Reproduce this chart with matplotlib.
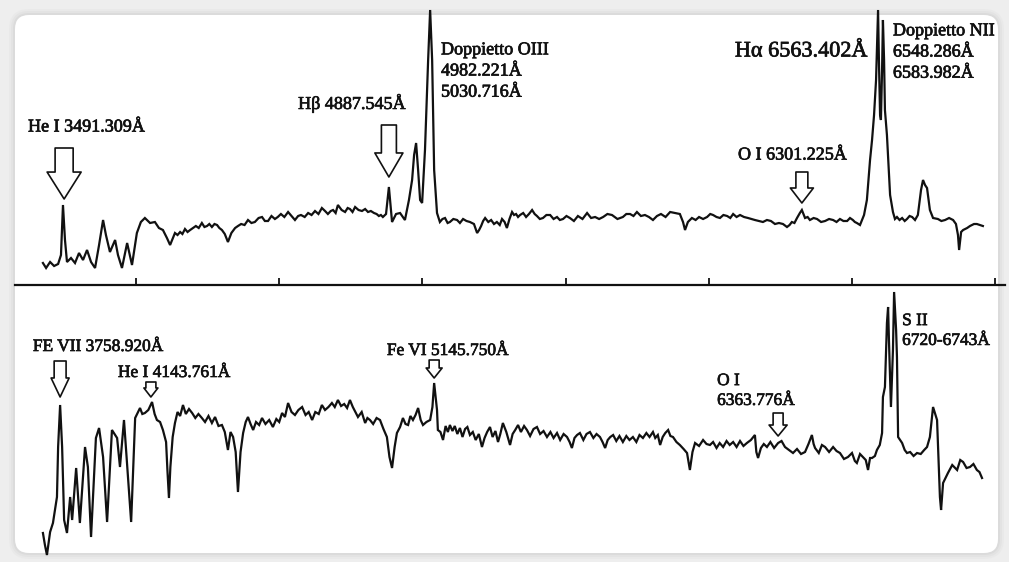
"""
Two optical spectra (top / bottom) with the identified emission lines marked
by hollow arrows, drawn on a rounded white card.
"""
import matplotlib

matplotlib.use("Agg")
import matplotlib.pyplot as plt
import matplotlib.patheffects as pe
from matplotlib.patches import FancyBboxPatch

plt.rcParams["font.family"] = ["Liberation Serif", "DejaVu Serif"]

# ---- upper spectrum: wavelength (Å) and relative flux ----
top_wave = [
    3675, 3686, 3700, 3714, 3728, 3738, 3745, 3752, 3759, 3773,
    3787, 3801, 3815, 3829, 3843, 3857, 3871, 3885, 3895, 3909,
    3927, 3937, 3951, 3969, 3986, 4003, 4017, 4031, 4049, 4066,
    4080, 4094, 4108, 4119, 4136, 4145, 4154, 4162, 4171, 4180,
    4189, 4199, 4209, 4219, 4230, 4239, 4248, 4256, 4265, 4274,
    4283, 4291, 4300, 4310, 4321, 4333, 4346, 4356, 4367, 4379,
    4391, 4403, 4415, 4428, 4440, 4450, 4461, 4473, 4485, 4495,
    4506, 4518, 4531, 4543, 4555, 4566, 4576, 4589, 4601, 4613,
    4625, 4637, 4649, 4660, 4670, 4680, 4688, 4697, 4705, 4718,
    4730, 4739, 4747, 4756, 4765, 4777, 4789, 4800, 4810, 4820,
    4831, 4840, 4848, 4855, 4862, 4873, 4883, 4894, 4908, 4922,
    4939, 4953, 4964, 4971, 4978, 4985, 4992, 4999, 5009, 5020,
    5027, 5034, 5041, 5051, 5061, 5070, 5079, 5088, 5096, 5108,
    5121, 5131, 5142, 5154, 5166, 5180, 5191, 5198, 5205, 5212,
    5219, 5230, 5240, 5250, 5260, 5270, 5278, 5287, 5295, 5304,
    5313, 5320, 5327, 5334, 5341, 5352, 5362, 5372, 5383, 5392,
    5400, 5410, 5421, 5433, 5446, 5458, 5470, 5480, 5491, 5503,
    5515, 5529, 5543, 5559, 5575, 5589, 5603, 5617, 5631, 5646,
    5662, 5681, 5700, 5712, 5725, 5737, 5749, 5763, 5777, 5791,
    5805, 5819, 5833, 5849, 5865, 5882, 5899, 5910, 5917, 5927,
    5941, 5954, 5966, 5980, 5994, 6005, 6015, 6027, 6039, 6051,
    6064, 6075, 6085, 6097, 6109, 6123, 6137, 6149, 6161, 6175,
    6189, 6203, 6217, 6231, 6245, 6259, 6273, 6282, 6290, 6299,
    6308, 6318, 6325, 6336, 6345, 6353, 6366, 6378, 6392, 6406,
    6420, 6434, 6446, 6458, 6470, 6483, 6493, 6503, 6510, 6517,
    6528, 6542, 6552, 6563, 6570, 6577, 6584, 6591, 6594, 6598,
    6601, 6605, 6608, 6612, 6615, 6622, 6633, 6643, 6650, 6657,
    6666, 6675, 6684, 6692, 6701, 6710, 6720, 6730, 6741, 6748,
    6755, 6762, 6772, 6783, 6800, 6812, 6825, 6839, 6853, 6863,
    6870, 6874, 6881, 6888, 6902, 6912, 6926, 6936, 6947, 6957,
]
top_flux = [
    0.22, 0.17, 0.23, 0.19, 0.21, 0.30, 0.80, 0.45, 0.23, 0.27,
    0.22, 0.32, 0.25, 0.35, 0.23, 0.17, 0.40, 0.65, 0.50, 0.33,
    0.45, 0.30, 0.17, 0.42, 0.20, 0.52, 0.63, 0.67, 0.62, 0.63,
    0.57, 0.55, 0.47, 0.40, 0.52, 0.50, 0.53, 0.51, 0.56, 0.53,
    0.55, 0.57, 0.59, 0.57, 0.62, 0.58, 0.59, 0.61, 0.58, 0.61,
    0.60, 0.57, 0.55, 0.51, 0.43, 0.52, 0.57, 0.59, 0.61, 0.60,
    0.65, 0.62, 0.63, 0.67, 0.68, 0.64, 0.64, 0.69, 0.66, 0.68,
    0.71, 0.68, 0.73, 0.69, 0.65, 0.69, 0.70, 0.68, 0.72, 0.70,
    0.74, 0.71, 0.77, 0.74, 0.71, 0.74, 0.75, 0.72, 0.80, 0.75,
    0.73, 0.77, 0.76, 0.73, 0.78, 0.75, 0.74, 0.76, 0.73, 0.74,
    0.72, 0.71, 0.69, 0.70, 0.68, 0.71, 0.98, 0.63, 0.71, 0.72,
    0.65, 0.85, 1.05, 1.30, 1.42, 1.15, 0.85, 0.82, 1.35, 2.25,
    2.75, 2.25, 1.15, 0.72, 0.63, 0.66, 0.67, 0.62, 0.63, 0.66,
    0.65, 0.62, 0.66, 0.64, 0.63, 0.61, 0.52, 0.55, 0.59, 0.64,
    0.67, 0.63, 0.65, 0.61, 0.63, 0.60, 0.66, 0.63, 0.57, 0.66,
    0.73, 0.70, 0.71, 0.68, 0.70, 0.72, 0.68, 0.71, 0.75, 0.71,
    0.69, 0.66, 0.67, 0.70, 0.70, 0.66, 0.68, 0.65, 0.66, 0.69,
    0.67, 0.64, 0.69, 0.66, 0.72, 0.67, 0.68, 0.66, 0.68, 0.71,
    0.70, 0.66, 0.68, 0.71, 0.71, 0.69, 0.73, 0.69, 0.70, 0.68,
    0.65, 0.69, 0.71, 0.68, 0.73, 0.72, 0.71, 0.63, 0.55, 0.63,
    0.67, 0.65, 0.68, 0.66, 0.68, 0.71, 0.70, 0.68, 0.67, 0.70,
    0.69, 0.67, 0.71, 0.68, 0.70, 0.68, 0.67, 0.66, 0.65, 0.64,
    0.63, 0.65, 0.64, 0.61, 0.62, 0.61, 0.58, 0.60, 0.63, 0.62,
    0.67, 0.72, 0.75, 0.67, 0.68, 0.65, 0.67, 0.66, 0.63, 0.64,
    0.66, 0.65, 0.63, 0.66, 0.64, 0.64, 0.67, 0.65, 0.63, 0.62,
    0.60, 0.70, 0.85, 1.25, 1.45, 1.70, 2.05, 2.75, 2.25, 1.70,
    1.65, 2.15, 2.65, 2.25, 1.75, 1.50, 0.90, 0.73, 0.66, 0.68,
    0.65, 0.67, 0.64, 0.66, 0.69, 0.68, 0.65, 0.70, 0.95, 1.05,
    1.00, 0.97, 0.75, 0.67, 0.66, 0.64, 0.65, 0.67, 0.65, 0.61,
    0.50, 0.35, 0.53, 0.55, 0.57, 0.59, 0.61, 0.61, 0.60, 0.59,
]

# ---- lower spectrum ----
bot_wave = [
    3675, 3682, 3689, 3700, 3710, 3724, 3728, 3735, 3742, 3749,
    3759, 3770, 3777, 3791, 3804, 3822, 3832, 3843, 3860, 3871,
    3885, 3899, 3916, 3934, 3944, 3958, 3983, 3997, 4014, 4022,
    4031, 4043, 4056, 4065, 4073, 4084, 4094, 4105, 4110, 4115,
    4120, 4128, 4136, 4145, 4154, 4164, 4174, 4185, 4196, 4207,
    4218, 4230, 4241, 4253, 4265, 4276, 4288, 4300, 4310, 4321,
    4330, 4339, 4348, 4356, 4365, 4374, 4383, 4391, 4400, 4409,
    4419, 4430, 4440, 4452, 4465, 4478, 4490, 4500, 4510, 4520,
    4531, 4543, 4555, 4567, 4580, 4592, 4603, 4615, 4626, 4638,
    4649, 4660, 4672, 4684, 4694, 4705, 4716, 4727, 4737, 4747,
    4757, 4766, 4775, 4788, 4800, 4808, 4817, 4828, 4840, 4852,
    4864, 4876, 4885, 4894, 4903, 4911, 4922, 4932, 4941, 4950,
    4958, 4967, 4976, 4985, 4994, 5002, 5014, 5027, 5035, 5041,
    5046, 5051, 5054, 5063, 5072, 5081, 5089, 5096, 5105, 5113,
    5122, 5131, 5140, 5149, 5157, 5166, 5176, 5186, 5197, 5208,
    5217, 5226, 5236, 5245, 5255, 5264, 5272, 5281, 5293, 5306,
    5315, 5324, 5334, 5344, 5355, 5365, 5376, 5388, 5400, 5411,
    5423, 5435, 5447, 5458, 5470, 5481, 5493, 5505, 5514, 5522,
    5531, 5540, 5550, 5562, 5573, 5585, 5597, 5608, 5620, 5629,
    5638, 5647, 5656, 5666, 5677, 5688, 5700, 5712, 5723, 5735,
    5747, 5758, 5770, 5782, 5793, 5805, 5813, 5822, 5830, 5839,
    5848, 5858, 5866, 5875, 5887, 5899, 5912, 5924, 5934, 5943,
    5952, 5966, 5980, 5992, 6004, 6015, 6027, 6038, 6050, 6062,
    6073, 6085, 6097, 6109, 6121, 6133, 6147, 6161, 6166, 6172,
    6182, 6192, 6203, 6215, 6228, 6242, 6254, 6266, 6280, 6294,
    6308, 6322, 6336, 6348, 6360, 6366, 6371, 6384, 6395, 6406,
    6420, 6434, 6446, 6458, 6472, 6486, 6500, 6510, 6517, 6528,
    6538, 6548, 6556, 6563, 6570, 6580, 6587, 6597, 6605, 6608,
    6615, 6622, 6626, 6629, 6636, 6643, 6647, 6654, 6657, 6661,
    6675, 6684, 6692, 6703, 6715, 6727, 6740, 6752, 6762, 6772,
    6783, 6797, 6800, 6807, 6811, 6818, 6835, 6850, 6867, 6878,
    6888, 6900, 6912, 6924, 6936, 6945, 6954,
]
bot_flux = [
    0.29, 0.17, 0.07, 0.30, 0.39, 0.65, 1.15, 1.57, 1.15, 0.42,
    0.29, 0.65, 0.42, 0.94, 0.39, 1.15, 0.95, 0.25, 1.24, 1.34,
    1.05, 0.40, 1.32, 1.24, 0.95, 1.42, 0.40, 1.44, 1.54, 1.48,
    1.49, 1.52, 1.60, 1.48, 1.42, 1.40, 1.32, 1.20, 0.90, 0.64,
    0.95, 1.25, 1.39, 1.50, 1.46, 1.57, 1.48, 1.53, 1.49, 1.44,
    1.48, 1.44, 1.40, 1.46, 1.39, 1.45, 1.36, 1.37, 1.30, 1.12,
    1.30, 1.25, 1.10, 0.70, 1.10, 1.29, 1.40, 1.45, 1.38, 1.32,
    1.40, 1.37, 1.44, 1.38, 1.42, 1.35, 1.43, 1.40, 1.49, 1.45,
    1.59, 1.50, 1.47, 1.52, 1.55, 1.47, 1.50, 1.42, 1.50, 1.48,
    1.57, 1.52, 1.55, 1.59, 1.55, 1.62, 1.56, 1.58, 1.54, 1.62,
    1.55, 1.50, 1.45, 1.50, 1.39, 1.44, 1.42, 1.38, 1.44, 1.42,
    1.33, 1.25, 1.05, 0.94, 1.15, 1.29, 1.35, 1.44, 1.38, 1.37,
    1.46, 1.42, 1.47, 1.54, 1.42, 1.37, 1.40, 1.42, 1.55, 1.79,
    1.65, 1.52, 1.32, 1.30, 1.22, 1.36, 1.30, 1.37, 1.31, 1.36,
    1.28, 1.34, 1.25, 1.33, 1.35, 1.27, 1.30, 1.22, 1.28, 1.15,
    1.24, 1.30, 1.35, 1.25, 1.31, 1.20, 1.28, 1.39, 1.30, 1.17,
    1.28, 1.32, 1.37, 1.30, 1.36, 1.32, 1.26, 1.33, 1.35, 1.28,
    1.31, 1.25, 1.30, 1.24, 1.29, 1.22, 1.28, 1.25, 1.20, 1.14,
    1.24, 1.27, 1.29, 1.22, 1.28, 1.30, 1.24, 1.28, 1.25, 1.20,
    1.14, 1.22, 1.25, 1.27, 1.21, 1.26, 1.20, 1.26, 1.22, 1.25,
    1.20, 1.27, 1.24, 1.29, 1.25, 1.30, 1.24, 1.27, 1.17, 1.25,
    1.29, 1.32, 1.26, 1.25, 1.20, 1.17, 1.13, 1.09, 0.92, 1.10,
    1.19, 1.16, 1.22, 1.18, 1.17, 1.20, 1.14, 1.19, 1.15, 1.21,
    1.17, 1.20, 1.15, 1.21, 1.16, 1.19, 1.22, 1.27, 1.10, 1.04,
    1.14, 1.18, 1.15, 1.20, 1.14, 1.19, 1.21, 1.15, 1.12, 1.09,
    1.13, 1.08, 1.10, 1.18, 1.27, 1.18, 1.14, 1.09, 1.17, 1.15,
    1.10, 1.15, 1.11, 1.09, 1.03, 1.05, 1.09, 1.01, 0.99, 1.08,
    1.05, 1.02, 0.92, 1.04, 1.04, 1.06, 1.12, 1.17, 1.29, 1.65,
    1.75, 2.39, 2.55, 2.22, 1.55, 2.12, 2.70, 2.32, 2.05, 1.25,
    1.19, 1.12, 1.09, 1.10, 1.06, 1.09, 1.08, 1.12, 1.15, 1.25,
    1.55, 1.42, 1.19, 0.65, 0.52, 0.79, 0.89, 0.97, 0.92, 1.02,
    1.00, 0.94, 0.95, 0.98, 0.92, 0.90, 0.84,
]

tick_wave = [4000, 4500, 5000, 5500, 6000, 6500, 7000]

# labels: text, wavelength, flux, font size
top_labels = [
    ("He I 3491.309Å", 3623, 1.58, 13),
    ("Hβ 4887.545Å", 4566, 1.82, 13),
    ("Doppietto OIII\n4982.221Å\n5030.716Å", 5065, 2.14, 13),
    ("Hα 6563.402Å", 6091, 2.33, 16),
    ("Doppietto NII\n6548.286Å\n6583.982Å", 6643, 2.33, 13),
    ("O I 6301.225Å", 6102, 1.30, 13),
]
bot_labels = [
    ("FE VII 3758.920Å", 3640, 2.15, 12.5),
    ("He I 4143.761Å", 3937, 1.89, 12.5),
    ("Fe VI 5145.750Å", 4876, 2.11, 12.5),
    ("O I\n6363.776Å", 6029, 1.71, 12.5),
    ("S II\n6720-6743Å", 6675, 2.31, 12.5),
]
# hollow arrows: wavelength, tip flux, tail flux, head length, head width, tail width (pt)
top_arrows = [
    (3749, 0.86, 1.37, 19.4, 24.5, 13.0),
    (4883, 1.08, 1.60, 17.3, 20.2, 10.8),
    (6325, 0.82, 1.13, 10.8, 16.6, 8.6),
]
bot_arrows = [
    (3735, 1.65, 2.01, 13.7, 13.0, 8.6),
    (4052, 1.65, 1.80, 6.5, 10.1, 7.2),
    (5041, 1.84, 2.02, 7.2, 11.5, 7.2),
    (6242, 1.26, 1.49, 7.9, 13.0, 7.2),
]

W, H = 1009, 562
XLIM = (3525.1, 7048.2)
INK = "#111111"


def hollow_arrow(ax, x, y_tip, y_top, hl, hw, tw):
    style = f"simple,head_length={hl},head_width={hw},tail_width={tw}"
    ax.annotate(
        "", xy=(x, y_tip), xytext=(x, y_top),
        arrowprops=dict(arrowstyle=style, fc="white", ec=INK, lw=1.2,
                        shrinkA=0, shrinkB=0, mutation_scale=1),
    )


def label(ax, text, x, y, size):
    t = ax.text(x, y, text, fontsize=size, color=INK, ha="left", va="center",
                linespacing=1.32)
    # the scanned labels look slightly heavier than a plain regular face
    t.set_path_effects([pe.withStroke(linewidth=0.5, foreground=INK)])


fig = plt.figure(figsize=(W / 100, H / 100), dpi=100, facecolor="#eeeeee")

# card with a soft shadow, kept beneath the axes
for pad, alpha in [(0.06, 0.05), (0.04, 0.07), (0.02, 0.10)]:
    fig.patches.append(FancyBboxPatch(
        (0.15 - pad, 0.09 - pad), 9.83 + 2 * pad, 5.38 + 2 * pad,
        boxstyle=f"round,pad=0,rounding_size={0.14 + pad}",
        transform=fig.dpi_scale_trans, fc="#9a9a9a", ec="none", alpha=alpha,
        zorder=-3))
fig.patches.append(FancyBboxPatch(
    (0.15, 0.09), 9.83, 5.38, boxstyle="round,pad=0,rounding_size=0.14",
    transform=fig.dpi_scale_trans, fc="white", ec="none", zorder=-2))

ax_top = fig.add_axes([0, 277 / H, 1, 285 / H])
ax_bot = fig.add_axes([0, 0, 1, 277 / H])

for ax in (ax_top, ax_bot):
    ax.set_facecolor("none")
    ax.set_xlim(*XLIM)
    ax.set_zorder(2)

ax_top.plot(top_wave, top_flux, color=INK, lw=1.6, solid_joinstyle="miter")
ax_top.set_ylim(0, 2.85)
for s in ("top", "left", "right"):
    ax_top.spines[s].set_visible(False)
ax_top.spines["bottom"].set_linewidth(1.6)
ax_top.spines["bottom"].set_color(INK)
ax_top.spines["bottom"].set_bounds(3577, 7034)
ax_top.set_xticks(tick_wave)
ax_top.set_yticks([])
ax_top.tick_params(axis="x", direction="in", length=5, width=1.3,
                   color=INK, labelbottom=False)

ax_bot.plot(bot_wave, bot_flux, color=INK, lw=1.6, solid_joinstyle="miter")
ax_bot.set_ylim(0, 2.77)
ax_bot.axis("off")

for ax, labels, arrows in ((ax_top, top_labels, top_arrows),
                           (ax_bot, bot_labels, bot_arrows)):
    for text, x, y, size in labels:
        label(ax, text, x, y, size)
    for spec in arrows:
        hollow_arrow(ax, *spec)

fig.savefig("out.png", dpi=100, facecolor=fig.get_facecolor())
